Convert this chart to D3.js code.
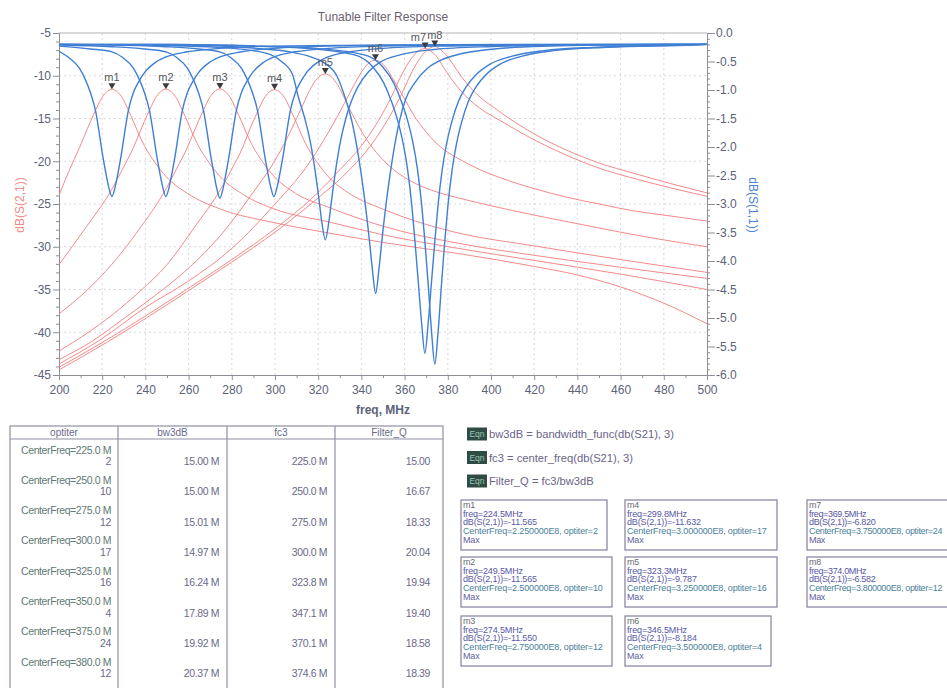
<!DOCTYPE html>
<html><head><meta charset="utf-8">
<script src="https://cdn.jsdelivr.net/npm/d3@7"></script>
<style>body{margin:0;background:#fff;} svg{display:block;font-family:"Liberation Sans",Arial,sans-serif;}</style>
</head><body><svg id="c" width="947" height="688"></svg>
<script>
// ---------- DATA ----------
const xTicks = [200,220,240,260,280,300,320,340,360,380,400,420,440,460,480,500];
const yLeftTicks = [-45,-40,-35,-30,-25,-20,-15,-10,-5];
const yRightTicks = [-6,-5.5,-5,-4.5,-4,-3.5,-3,-2.5,-2,-1.5,-1,-0.5,0];

// dB(S(2,1)) curves [freq MHz, dB]
const s21_m1 = [[200,-24.0],[204.5,-21.2],[209.5,-18.4],[212,-16.9],[214.5,-15.4],[217,-14.0],[219.5,-12.7],[222,-11.9],[224.5,-11.57],[227,-11.87],[229.5,-12.67],[232,-13.97],[234.5,-15.37],[237,-16.87],[239.5,-18.17],[244.5,-20.17],[249.5,-21.77],[259.5,-23.77],[274.5,-25.57],[300,-27.2],[325,-28.4],[350,-29.5],[385,-30.8],[420,-32.3],[440,-33.3],[460,-34.7],[480,-36.6],[500,-39.0]];
const s21_m2 = [[200,-32.1],[212,-27.9],[224.5,-23.27],[229.5,-20.87],[234.5,-18.37],[237,-16.87],[239.5,-15.37],[242,-13.97],[244.5,-12.67],[247,-11.87],[249.5,-11.57],[252,-11.87],[254.5,-12.67],[257,-13.97],[259.5,-15.37],[262,-16.87],[264.5,-18.17],[269.5,-20.17],[274.5,-21.77],[284.5,-23.77],[299.5,-25.57],[325,-27.1],[350,-28.6],[385,-30.2],[420,-31.6],[460,-33.2],[500,-35.0]];
const s21_m3 = [[200,-37.85],[212.5,-35.2],[224.5,-32.05],[237,-28.0],[249.5,-23.25],[254.5,-20.85],[259.5,-18.35],[262,-16.85],[264.5,-15.35],[267,-13.95],[269.5,-12.65],[272,-11.85],[274.5,-11.55],[277,-11.85],[279.5,-12.65],[282,-13.95],[284.5,-15.35],[287,-16.85],[289.5,-18.15],[294.5,-20.15],[299.5,-21.75],[309.5,-23.75],[325,-25.4],[350,-27.6],[385,-29.6],[420,-31.0],[460,-32.4],[500,-33.7]];
const s21_m4 = [[200,-42.2],[212.5,-40.2],[225,-37.9],[237.5,-35.2],[250,-32.1],[262.5,-27.8],[275,-23.2],[280,-20.9],[285,-18.4],[287.3,-16.9],[289.8,-15.4],[292.3,-14.0],[294.8,-12.7],[297.3,-11.9],[299.8,-11.63],[302.3,-11.93],[304.8,-12.73],[307.3,-14.03],[309.8,-15.43],[312.3,-16.93],[314.8,-18.23],[319.8,-20.23],[324.8,-21.83],[334.8,-23.83],[350,-25.6],[365,-27.0],[385,-28.4],[420,-29.9],[460,-31.5],[500,-33.0]];
const s21_m5 = [[200,-43.2],[215,-41.1],[230,-38.4],[245,-35.6],[260,-32.5],[275,-28.6],[290,-23.6],[300,-19.9],[305,-17.6],[310,-15.0],[314,-12.8],[318,-10.84],[321,-10.0],[323.3,-9.79],[325.8,-10.07],[328.3,-10.8],[331,-12.0],[334,-13.6],[337,-15.1],[341,-16.9],[347,-19.0],[355,-21.0],[365,-22.6],[375,-23.6],[385,-24.3],[400,-25.2],[420,-26.3],[440,-27.3],[460,-28.3],[480,-29.2],[500,-30.0]];
const s21_m6 = [[200,-43.7],[219,-40.9],[240,-37.1],[260,-34.0],[280,-30.2],[300,-25.0],[315,-20.5],[325,-16.5],[332,-13.3],[337,-10.9],[341,-9.2],[344,-8.4],[346.5,-8.18],[349,-8.45],[351.5,-9.1],[354,-10.1],[357,-11.4],[360,-12.7],[364,-14.5],[370,-16.6],[378,-18.6],[385,-19.7],[395,-21.0],[404,-21.9],[420,-23.2],[435,-24.2],[450,-25.0],[466,-25.8],[483,-26.4],[500,-27.0]];
const s21_m7 = [[200,-44.1],[222,-40.9],[240,-38.1],[259,-35.0],[280,-31.5],[300,-27.9],[318.5,-24.0],[330,-21.0],[340,-18.2],[348,-15.2],[354,-12.4],[358,-10.2],[361,-8.8],[364,-7.7],[367,-7.0],[369.5,-6.82],[372,-7.1],[375,-7.8],[378,-9.0],[382,-10.5],[388,-12.3],[396,-14.0],[404,-15.2],[420,-17.5],[435,-19.3],[450,-20.8],[466,-22.0],[483,-23.1],[500,-24.1]];
const s21_m8 = [[200,-44.4],[222,-41.2],[240,-38.4],[259,-35.3],[280,-31.8],[300,-28.3],[318.5,-24.6],[334.5,-21.0],[344.5,-18.1],[352.5,-15.0],[358.5,-12.2],[362.5,-10.0],[365.5,-8.6],[368.5,-7.5],[371.5,-6.8],[374,-6.58],[376.5,-6.9],[379,-7.5],[382,-8.5],[386,-10.0],[392,-11.8],[404,-14.2],[420,-16.8],[435,-18.7],[450,-20.2],[466,-21.4],[483,-22.6],[500,-23.7]];

// dB(S(1,1)) curves [freq MHz, dB]
const s11_m1 = [[200,-0.32],[204.5,-0.43],[209.5,-0.62],[212,-0.8],[214.5,-1.04],[217,-1.38],[218.5,-1.72],[220,-2.1],[221.5,-2.42],[223,-2.7],[224.5,-2.87],[226,-2.7],[227.5,-2.42],[229,-2.1],[230.5,-1.72],[232,-1.38],[234.5,-1.04],[237,-0.85],[239.5,-0.7],[244.5,-0.52],[249.5,-0.42],[259.5,-0.33],[274.5,-0.27],[299.5,-0.23],[349.5,-0.21],[425,-0.2],[500,-0.2]];
const s11_m2 = [[200,-0.23],[214.5,-0.28],[224.5,-0.33],[229.5,-0.43],[234.5,-0.62],[237,-0.8],[239.5,-1.04],[242,-1.38],[243.5,-1.72],[245,-2.1],[246.5,-2.42],[248,-2.7],[249.5,-2.87],[251,-2.7],[252.5,-2.42],[254,-2.1],[255.5,-1.72],[257,-1.38],[259.5,-1.04],[262,-0.85],[264.5,-0.7],[269.5,-0.52],[274.5,-0.42],[284.5,-0.33],[299.5,-0.27],[324.5,-0.23],[374.5,-0.21],[450,-0.2],[500,-0.2]];
const s11_m3 = [[200,-0.21],[224.5,-0.24],[239.5,-0.28],[249.5,-0.33],[254.5,-0.43],[259.5,-0.62],[262,-0.8],[264.5,-1.04],[267,-1.38],[268.5,-1.72],[270,-2.1],[271.5,-2.42],[273,-2.72],[274.5,-2.9],[276,-2.72],[277.5,-2.42],[279,-2.1],[280.5,-1.72],[282,-1.38],[284.5,-1.04],[287,-0.85],[289.5,-0.7],[294.5,-0.52],[299.5,-0.42],[309.5,-0.33],[324.5,-0.27],[349.5,-0.23],[399.5,-0.21],[475,-0.2],[500,-0.2]];
const s11_m4 = [[200,-0.2],[224.5,-0.21],[249.5,-0.24],[264.5,-0.28],[274.5,-0.33],[279.5,-0.43],[284.5,-0.62],[287,-0.8],[289.5,-1.04],[292,-1.38],[293.5,-1.72],[295,-2.1],[296.5,-2.42],[298,-2.7],[299.5,-2.87],[301,-2.7],[302.5,-2.42],[304,-2.1],[305.5,-1.72],[307,-1.38],[309.5,-1.04],[312,-0.85],[314.5,-0.7],[319.5,-0.52],[324.5,-0.42],[334.5,-0.33],[349.5,-0.27],[374.5,-0.23],[424.5,-0.21],[500,-0.2]];
const s11_m5 = [[200,-0.2],[248,-0.22],[273,-0.25],[288,-0.3],[298,-0.38],[303,-0.5],[308,-0.72],[311,-1.15],[313.8,-1.5],[316.3,-1.9],[318.3,-2.35],[320.3,-2.9],[321.8,-3.35],[323.3,-3.63],[324.8,-3.35],[326.3,-2.9],[328.3,-2.35],[330.3,-1.9],[332.8,-1.5],[335.3,-1.2],[338.3,-0.95],[343.3,-0.68],[348.3,-0.52],[358.3,-0.38],[373.3,-0.29],[398.3,-0.24],[448,-0.21],[500,-0.2]];
const s11_m6 = [[200,-0.2],[266.6,-0.22],[291.6,-0.27],[306.6,-0.33],[316.6,-0.42],[322.6,-0.52],[328.6,-0.75],[332.6,-1.15],[335.6,-1.55],[338.6,-2.15],[341.1,-2.8],[343.6,-3.6],[345.1,-4.15],[346.6,-4.57],[348.1,-4.15],[349.6,-3.6],[352.1,-2.8],[354.6,-2.15],[357.6,-1.55],[360.6,-1.15],[364.6,-0.88],[370.6,-0.62],[376.6,-0.48],[386.6,-0.36],[401.6,-0.28],[426.6,-0.23],[476.6,-0.2],[500,-0.2]];
const s11_m7 = [[200,-0.2],[249.4,-0.2],[289.4,-0.23],[314.4,-0.27],[329.4,-0.33],[339.4,-0.42],[345.4,-0.6],[350.4,-0.88],[353.9,-1.2],[356.9,-1.55],[359.4,-1.95],[361.4,-2.4],[363.4,-3.05],[364.9,-3.7],[366.4,-4.4],[367.9,-5.1],[369.4,-5.62],[370.9,-5.1],[372.4,-4.4],[373.9,-3.7],[375.4,-3.05],[377.4,-2.4],[379.4,-1.95],[381.9,-1.55],[384.9,-1.2],[388.4,-0.95],[393.4,-0.72],[399.4,-0.55],[409.4,-0.41],[424.4,-0.31],[449.4,-0.25],[489.4,-0.21],[500,-0.2]];
const s11_m8 = [[200,-0.2],[254,-0.2],[294,-0.23],[319,-0.27],[334,-0.33],[344,-0.42],[350,-0.6],[355,-0.88],[358.5,-1.2],[361.5,-1.55],[364,-1.95],[366,-2.4],[368,-3.05],[369.5,-3.7],[371,-4.45],[372.5,-5.25],[374,-5.81],[375.5,-5.25],[377,-4.45],[378.5,-3.7],[380,-3.05],[382,-2.4],[384,-1.95],[386.5,-1.55],[389.5,-1.2],[393,-0.95],[398,-0.72],[404,-0.55],[414,-0.41],[429,-0.31],[454,-0.25],[494,-0.21],[500,-0.2]];

const markerNames = ["m1","m2","m3","m4","m5","m6","m7","m8"];
const markerFreq = [224.5,249.5,274.5,299.8,323.3,346.5,369.5,374.0];
const markerDb = [-11.565,-11.565,-11.550,-11.632,-9.787,-8.184,-6.820,-6.582];
const markerCenter = ["2.250000E8","2.500000E8","2.750000E8","3.000000E8","3.250000E8","3.500000E8","3.750000E8","3.800000E8"];
const markerOptiter = [2,10,12,17,16,4,24,12];

const tableHeaders = ["optiter","bw3dB","fc3","Filter_Q"];
const tableCenterFreq = ["225.0","250.0","275.0","300.0","325.0","350.0","375.0","380.0"];
const tableOptiter = ["2","10","12","17","16","4","24","12"];
const tableBw3dB = ["15.00 M","15.00 M","15.01 M","14.97 M","16.24 M","17.89 M","19.92 M","20.37 M"];
const tableFc3 = ["225.0 M","250.0 M","275.0 M","300.0 M","323.8 M","347.1 M","370.1 M","374.6 M"];
const tableQ = ["15.00","16.67","18.33","20.04","19.94","19.40","18.58","18.39"];

const equations = ["bw3dB = bandwidth_func(db(S21), 3)","fc3 = center_freq(db(S21), 3)","Filter_Q = fc3/bw3dB"];

// ---------- DRAWING ----------
const svg = d3.select("#c");
const L = 59, R = 707, T = 33, B = 375;
const x = d3.scaleLinear().domain([200,500]).range([L,R]);
const yL = d3.scaleLinear().domain([-45,-5]).range([B,T]);
const yR = d3.scaleLinear().domain([-6,0]).range([B,T]);
const tickCol = "#5b6378";

svg.append("defs").append("clipPath").attr("id","plotclip")
  .append("rect").attr("x",L).attr("y",T-2).attr("width",R-L).attr("height",B-T+2);

// grid
const grid = svg.append("g").attr("stroke","#cfcfd4").attr("stroke-width",0.8).attr("stroke-dasharray","2,3");
xTicks.slice(1,-1).forEach(v=>grid.append("line").attr("x1",x(v)).attr("x2",x(v)).attr("y1",T).attr("y2",B));
yLeftTicks.slice(1,-1).forEach(v=>grid.append("line").attr("x1",L).attr("x2",R).attr("y1",yL(v)).attr("y2",yL(v)));

// frame top
svg.append("line").attr("x1",L).attr("x2",R).attr("y1",T).attr("y2",T).attr("stroke","#b4b4b8").attr("stroke-width",1);

function styleAxis(g){
  g.selectAll(".domain").attr("stroke","#8e8e96");
  g.selectAll(".tick line").attr("stroke","#8e8e96");
  g.selectAll("text").attr("fill",tickCol).style("font-size","12px").style("font-family","'Liberation Sans',Arial,sans-serif");
}
// minor ticks
svg.append("g").attr("transform",`translate(0,${B})`)
  .call(d3.axisBottom(x).tickValues(d3.range(210,500,20)).tickSize(3).tickFormat(""))
  .call(g=>{g.select(".domain").remove();g.selectAll("line").attr("stroke","#8e8e96");});
svg.append("g").attr("transform",`translate(${L},0)`)
  .call(d3.axisLeft(yL).tickValues(d3.range(-45,-5,1).filter(v=>v%5!==0)).tickSize(3).tickFormat(""))
  .call(g=>{g.select(".domain").remove();g.selectAll("line").attr("stroke","#8e8e96");});
svg.append("g").attr("transform",`translate(${R},0)`)
  .call(d3.axisRight(yR).tickValues(d3.range(-60,0,1).filter(v=>v%5!==0).map(v=>v/10)).tickSize(3).tickFormat(""))
  .call(g=>{g.select(".domain").remove();g.selectAll("line").attr("stroke","#8e8e96");});

svg.append("g").attr("transform",`translate(0,${B})`)
  .call(d3.axisBottom(x).tickValues(xTicks).tickSize(5).tickPadding(5).tickFormat(d=>String(d)))
  .call(styleAxis);
svg.append("g").attr("transform",`translate(${L},0)`)
  .call(d3.axisLeft(yL).tickValues(yLeftTicks).tickSize(6).tickPadding(2).tickFormat(d=>String(d)))
  .call(styleAxis);
svg.append("g").attr("transform",`translate(${R},0)`)
  .call(d3.axisRight(yR).tickValues(yRightTicks).tickSize(8).tickPadding(1).tickFormat(d=>d===0?"0.0":d.toFixed(1)))
  .call(styleAxis);

// titles
svg.append("text").attr("x",383).attr("y",21).attr("text-anchor","middle").attr("fill","#6a6270")
  .style("font-size","12px").text("Tunable Filter Response");
svg.append("text").attr("x",383).attr("y",414).attr("text-anchor","middle").attr("fill",tickCol)
  .style("font-size","12px").style("font-weight","bold").text("freq, MHz");
svg.append("text").attr("transform","translate(24,205) rotate(-90)").attr("text-anchor","middle")
  .attr("fill","#f08a88").style("font-size","12px").text("dB(S(2,1))");
svg.append("text").attr("transform","translate(749,205) rotate(90)").attr("text-anchor","middle")
  .attr("fill","#4a82d6").style("font-size","12px").text("dB(S(1,1))");

// curves
const plot = svg.append("g").attr("clip-path","url(#plotclip)");
const lineL = d3.line().x(d=>x(d[0])).y(d=>yL(d[1])).curve(d3.curveMonotoneX);
const lineR = d3.line().x(d=>x(d[0])).y(d=>yR(d[1])).curve(d3.curveMonotoneX);
[s21_m1,s21_m2,s21_m3,s21_m4,s21_m5,s21_m6,s21_m7,s21_m8].forEach(s=>{
  plot.append("path").attr("d",lineL(s)).attr("fill","none").attr("stroke","#f27c7c").attr("stroke-width",1).attr("stroke-opacity",0.9);
});
[s11_m1,s11_m2,s11_m3,s11_m4,s11_m5,s11_m6,s11_m7,s11_m8].forEach(s=>{
  plot.append("path").attr("d",lineR(s)).attr("fill","none").attr("stroke","#3f7fd4").attr("stroke-width",1.4);
});

// markers
markerNames.forEach((m,i)=>{
  const px = x(markerFreq[i]), py = yL(markerDb[i]);
  svg.append("path").attr("d",`M${px-3.5},${py-6}L${px+3.5},${py-6}L${px},${py}Z`).attr("fill","#3a3a40");
  const t = svg.append("text").attr("y",py-8).attr("fill","#55555c").style("font-size","11px").text(m);
  if (m==="m7") t.attr("x",px+1).attr("text-anchor","end");
  else t.attr("x",px).attr("text-anchor","middle");
});

// table
const cols = [10,118,227,335,443];
const tT = 426, hB = 439, rowH = 30.3;
const tg = svg.append("g");
tg.append("rect").attr("x",cols[0]).attr("y",tT).attr("width",cols[4]-cols[0]).attr("height",300)
  .attr("fill","none").attr("stroke","#8f8fa6").attr("stroke-width",1.2);
tg.append("line").attr("x1",cols[0]).attr("x2",cols[4]).attr("y1",hB).attr("y2",hB).attr("stroke","#8f8fa6").attr("stroke-width",1.2);
cols.slice(1,4).forEach(c=>tg.append("line").attr("x1",c).attr("x2",c).attr("y1",tT).attr("y2",700).attr("stroke","#8f8fa6").attr("stroke-width",1.2));
tableHeaders.forEach((h,i)=>tg.append("text").attr("x",(cols[i]+cols[i+1])/2).attr("y",436).attr("text-anchor","middle")
  .attr("fill","#6a6a8a").style("font-size","10px").text(h));
const tStyle = s=>s.style("font-size","10.5px").style("letter-spacing","-0.4px");
tableCenterFreq.forEach((cf,i)=>{
  const y1 = 453.5 + i*rowH, y2 = 465 + i*rowH;
  tg.append("text").attr("x",111).attr("y",y1).attr("text-anchor","end").attr("fill","#607a74").call(tStyle).text(`CenterFreq=${cf} M`);
  tg.append("text").attr("x",111).attr("y",y2).attr("text-anchor","end").attr("fill","#6a6a8a").call(tStyle).text(tableOptiter[i]);
  tg.append("text").attr("x",219).attr("y",y2).attr("text-anchor","end").attr("fill","#6a6a8a").call(tStyle).text(tableBw3dB[i]);
  tg.append("text").attr("x",327).attr("y",y2).attr("text-anchor","end").attr("fill","#6a6a8a").call(tStyle).text(tableFc3[i]);
  tg.append("text").attr("x",430).attr("y",y2).attr("text-anchor","end").attr("fill","#6a6a8a").call(tStyle).text(tableQ[i]);
});

// equations
equations.forEach((e,i)=>{
  const cy = 434 + i*23.5;
  svg.append("rect").attr("x",467).attr("y",cy-6.5).attr("width",20).attr("height",13).attr("fill","#2e4c44");
  svg.append("text").attr("x",477).attr("y",cy+3).attr("text-anchor","middle").attr("fill","#9cc2b2").style("font-size","8.5px").text("Eqn");
  svg.append("text").attr("x",489).attr("y",cy+4).attr("fill","#6a6488").style("font-size","11.2px").text(e);
});

// marker readout boxes
const boxX = [461,625,807], boxY = [500,557,616], boxW = [146,152,160], boxH = 50;
const defs = svg.select("defs");
markerNames.forEach((m,i)=>{
  const col = Math.floor(i/3), row = i%3;
  const bx = boxX[col], by = boxY[row], bw = (col===0 && row>0) ? 151 : (i===5 ? 146 : boxW[col]);
  defs.append("clipPath").attr("id","bc"+i).append("rect").attr("x",bx).attr("y",by).attr("width",bw-1).attr("height",boxH);
  svg.append("rect").attr("x",bx).attr("y",by).attr("width",bw).attr("height",boxH).attr("fill","#fff")
    .attr("stroke","#8a8aa6").attr("stroke-width",1.3);
  const g = svg.append("g").attr("clip-path",`url(#bc${i})`).style("font-size","9px")
    .style("letter-spacing", col===2 ? "-0.35px" : "-0.15px");
  const lines = [
    [m,"#6a6a72"],
    [`freq=${markerFreq[i].toFixed(1)}MHz`,"#5656a6"],
    [`dB(S(2,1))=${markerDb[i].toFixed(3)}`,"#5a5aa6"],
    [`CenterFreq=${markerCenter[i]}, optiter=${markerOptiter[i]}`,"#4a7f9c"],
    ["Max","#6262a0"]];
  lines.forEach((l,j)=>g.append("text").attr("x",bx+2).attr("y",by+7.8+j*8.8).attr("fill",l[1]).text(l[0]));
});
</script></body></html>
